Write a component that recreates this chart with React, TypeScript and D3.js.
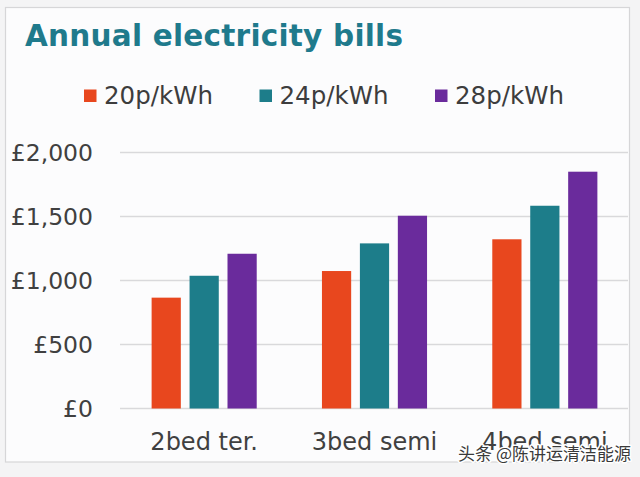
import React from 'react';
import * as d3 from 'd3';

const categories = ['2bed ter.', '3bed semi', '4bed semi'];
const seriesNames = ['20p/kWh', '24p/kWh', '28p/kWh'];
const bills20 = [866, 1074, 1322];
const bills24 = [1037, 1290, 1584];
const bills28 = [1209, 1506, 1850];
const yTicks = [0, 500, 1000, 1500, 2000];
const colors = ['#E8471E', '#1D7D8A', '#6A2B9C'];
const title = 'Annual electricity bills';
const watermark = '头条 @陈讲运清洁能源';

const seriesValues = [bills20, bills24, bills28];

const W = 640;
const H = 477;
const FONT = '"DejaVu Sans", Verdana, sans-serif';

export default function App() {
  const x0 = d3
    .scaleBand<string>()
    .domain(categories)
    .range([119, 630])
    .paddingInner(0.383)
    .paddingOuter(0.1915);
  const x1 = d3
    .scaleBand<string>()
    .domain(seriesNames)
    .range([0, x0.bandwidth()])
    .paddingInner(0.23)
    .paddingOuter(0);
  const y = d3.scaleLinear().domain([0, 2000]).range([408.5, 152.5]);
  const fmt = (v: number) => '£' + d3.format(',')(v);

  return (
    <svg
      width={W}
      height={H}
      style={{ position: 'absolute', left: 0, top: 0, fontFamily: FONT }}
    >
      <rect x={0} y={0} width={W} height={H} fill="#f4f4f5" />
      <rect x={5.5} y={7.5} width={624} height={454.5} fill="#fcfcfd" stroke="#d6d6d8" strokeWidth={1.2} />
      <text
        x={25}
        y={46}
        fontSize={29.5}
        fontWeight="bold"
        fill="#1F7A8C"
        textLength={378}
        lengthAdjust="spacing"
      >
        {title}
      </text>
      {seriesNames.map((s, i) => (
        <g key={s} transform={`translate(${84 + i * 175.5},0)`}>
          <rect x={0} y={89.5} width={12.5} height={12.5} fill={colors[i]} />
          <text x={20} y={103.5} fontSize={24.5} fill="#3d3d3d">
            {s}
          </text>
        </g>
      ))}
      {yTicks.map((t) => (
        <g key={t}>
          <line x1={120} x2={628} y1={y(t)} y2={y(t)} stroke="#d9d9db" strokeWidth={1.5} />
          <text x={93} y={y(t)} dy="0.36em" textAnchor="end" fontSize={23.5} fill="#404040">
            {fmt(t)}
          </text>
        </g>
      ))}
      {categories.map((c, ci) => (
        <g key={c} transform={`translate(${x0(c)},0)`}>
          {seriesNames.map((s, si) => (
            <rect
              key={s}
              x={x1(s)}
              y={y(seriesValues[si][ci])}
              width={x1.bandwidth()}
              height={y(0) - y(seriesValues[si][ci])}
              fill={colors[si]}
            />
          ))}
          <text
            x={x0.bandwidth() / 2}
            y={450}
            textAnchor="middle"
            fontSize={24}
            fill="#404040"
          >
            {c}
          </text>
        </g>
      ))}
      <text
        x={631}
        y={460}
        textAnchor="end"
        fontSize={17}
        fontFamily='"Noto Sans CJK SC", sans-serif'
        fill="#3a3a3a"
        stroke="#ffffff"
        strokeWidth={3}
        paintOrder="stroke"
        strokeLinejoin="round"
      >
        {watermark}
      </text>
    </svg>
  );
}
